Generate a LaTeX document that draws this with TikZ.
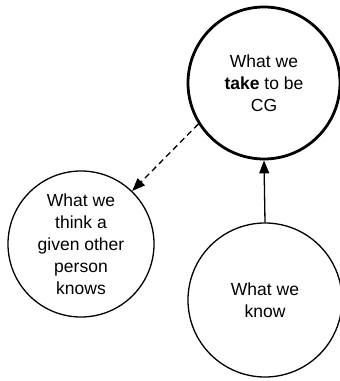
\documentclass[tikz,border=0pt]{standalone}
\usepackage{fontspec}
\setmainfont{Liberation Sans}
\usetikzlibrary{arrows.meta}
\begin{document}
\begin{tikzpicture}[x=1pt,y=-1pt,
  bubble/.style={circle,draw=black,line width=1.3pt,inner sep=0pt,align=center,
    font=\fontsize{17.5}{22}\selectfont},
  tip/.style={-{Triangle[length=13pt,width=10pt]}}]
\useasboundingbox (0,0) rectangle (340,381);
\node[bubble,line width=2.8pt,minimum size=152pt] (cg) at (264,83) {What we\\\textbf{take} to be\\CG};
\node[bubble,minimum size=146pt] (other) at (81,244) {What we\\think a\\given other\\person\\knows};
\node[bubble,minimum size=154pt] (know) at (265,300) {What we\\know};
\draw[tip,line width=1.3pt] (know.north) -- (cg.south);
\draw[tip,line width=1.3pt,dash pattern=on 6pt off 4pt] (cg.212) -- (other.46);
\end{tikzpicture}
\end{document}
